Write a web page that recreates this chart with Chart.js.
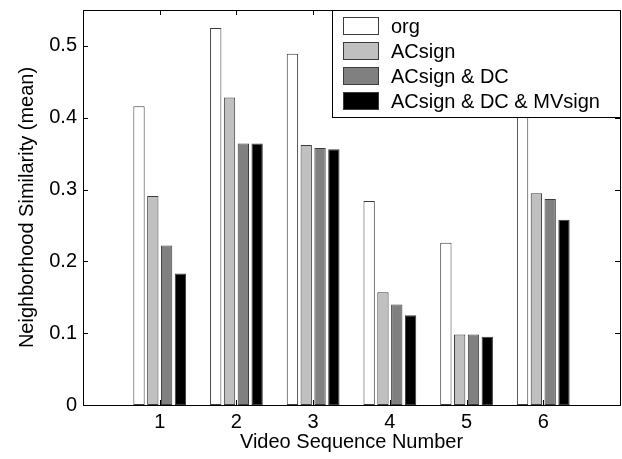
<!DOCTYPE html>
<html>
<head>
<meta charset="utf-8">
<script src="https://cdn.jsdelivr.net/npm/chart.js@4/dist/chart.umd.min.js"></script>
<style>
  html, body { margin: 0; padding: 0; background: #fff; }
  #wrap { width: 622px; height: 459px; }
</style>
</head>
<body>
<div id="wrap"><canvas id="simChart" width="622" height="459"></canvas></div>
<script>
// data
const categories = ['1', '2', '3', '4', '5', '6'];
const orgValues = [0.416, 0.525, 0.489, 0.284, 0.226, 0.43];
const acsignValues = [0.291, 0.428, 0.362, 0.157, 0.098, 0.295];
const acsignDcValues = [0.222, 0.364, 0.358, 0.140, 0.098, 0.287];
const acsignDcMvValues = [0.183, 0.364, 0.356, 0.125, 0.095, 0.258];
const yTicks = [0, 0.1, 0.2, 0.3, 0.4, 0.5];

const FONT = { family: '"Liberation Sans", Arial, Helvetica, sans-serif', size: 20 };

// pad the axis with an empty slot on each side (x range 0..7 like the original)
const labels = [''].concat(categories, ['']);
function pad(arr) {
  return [null].concat(arr, [null]);
}

function series(label, values, fill) {
  return {
    label: label,
    data: pad(values),
    backgroundColor: fill,
    borderColor: '#3c3c3c',
    borderWidth: 1,
    borderSkipped: false,
    categoryPercentage: 0.72,
    barPercentage: 0.82,
  };
}

// matlab-style frame, inward ticks and legend box inside the axes
const frameAndLegend = {
  id: 'frameAndLegend',
  afterDatasetsDraw(chart) {
    const ctx = chart.ctx;
    const a = chart.chartArea;
    const xs = chart.scales.x;
    const ys = chart.scales.y;
    const len = 5;
    ctx.save();
    ctx.strokeStyle = '#000';
    ctx.lineWidth = 1;
    ctx.beginPath();
    xs.ticks.forEach(function (t, i) {
      if (!labels[t.value]) return;
      const px = Math.round(xs.getPixelForTick(i)) + 0.5;
      ctx.moveTo(px, a.bottom);
      ctx.lineTo(px, a.bottom - len);
      ctx.moveTo(px, a.top);
      ctx.lineTo(px, a.top + len);
    });
    ys.ticks.forEach(function (t, i) {
      const py = Math.round(ys.getPixelForTick(i)) + 0.5;
      ctx.moveTo(a.left, py);
      ctx.lineTo(a.left + len, py);
      ctx.moveTo(a.right, py);
      ctx.lineTo(a.right - len, py);
    });
    ctx.stroke();
    ctx.strokeRect(Math.round(a.left) + 0.5, Math.round(a.top) + 0.5,
      Math.round(a.right - a.left), Math.round(a.bottom - a.top));

    // legend
    const boxL = 332, boxT = Math.round(a.top), boxR = Math.round(a.right), boxB = 117;
    ctx.fillStyle = '#fff';
    ctx.fillRect(boxL, boxT, boxR - boxL, boxB - boxT);
    ctx.strokeRect(boxL + 0.5, boxT + 0.5, boxR - boxL, boxB - boxT);
    ctx.font = FONT.size + 'px ' + FONT.family;
    ctx.textBaseline = 'middle';
    chart.data.datasets.forEach(function (ds, i) {
      const cy = 26 + i * 25;
      ctx.fillStyle = ds.backgroundColor;
      ctx.fillRect(343, cy - 9, 36, 18);
      ctx.strokeStyle = '#3c3c3c';
      ctx.strokeRect(343.5, cy - 8.5, 35, 17);
      ctx.fillStyle = '#000';
      ctx.fillText(ds.label, 391, cy + 1);
    });
    ctx.restore();
  },
};

const simConfig = {
  type: 'bar',
  data: {
    labels: labels,
    datasets: [
      series('org', orgValues, '#ffffff'),
      series('ACsign', acsignValues, '#c0c0c0'),
      series('ACsign & DC', acsignDcValues, '#808080'),
      series('ACsign & DC & MVsign', acsignDcMvValues, '#000000'),
    ],
  },
  options: {
    responsive: false,
    animation: false,
    layout: { padding: { top: 10, right: 2, left: 0, bottom: 0 } },
    plugins: {
      legend: { display: false },
      tooltip: { enabled: false },
    },
    scales: {
      x: {
        offset: false,
        grid: { display: false, drawTicks: false },
        border: { display: false },
        ticks: {
          autoSkip: false,
          maxRotation: 0,
          padding: 5,
          color: '#000',
          font: FONT,
        },
        title: {
          display: true,
          text: 'Video Sequence Number',
          color: '#000',
          font: FONT,
          padding: { top: 0, bottom: 5 },
        },
        afterFit: function (scale) {
          scale.height = 54;
          scale.paddingLeft = 0;
          scale.paddingRight = 0;
        },
      },
      y: {
        min: 0,
        max: 0.55,
        grid: { display: false, drawTicks: false },
        border: { display: false },
        ticks: {
          stepSize: 0.1,
          includeBounds: false,
          padding: 6,
          color: '#000',
          font: FONT,
          callback: function (v) {
            return yTicks.some(function (t) { return Math.abs(t - v) < 1e-6; }) ? String(+v.toFixed(1)) : '';
          },
        },
        title: {
          display: true,
          text: 'Neighborhood Similarity (mean)',
          color: '#000',
          font: FONT,
          padding: { top: 15, bottom: 0 },
        },
        afterFit: function (scale) {
          scale.width = 83;
          scale.paddingTop = 0;
          scale.paddingBottom = 0;
        },
      },
    },
  },
  plugins: [frameAndLegend],
};

const simChart = new Chart(document.getElementById('simChart'), simConfig);
</script>
</body>
</html>
